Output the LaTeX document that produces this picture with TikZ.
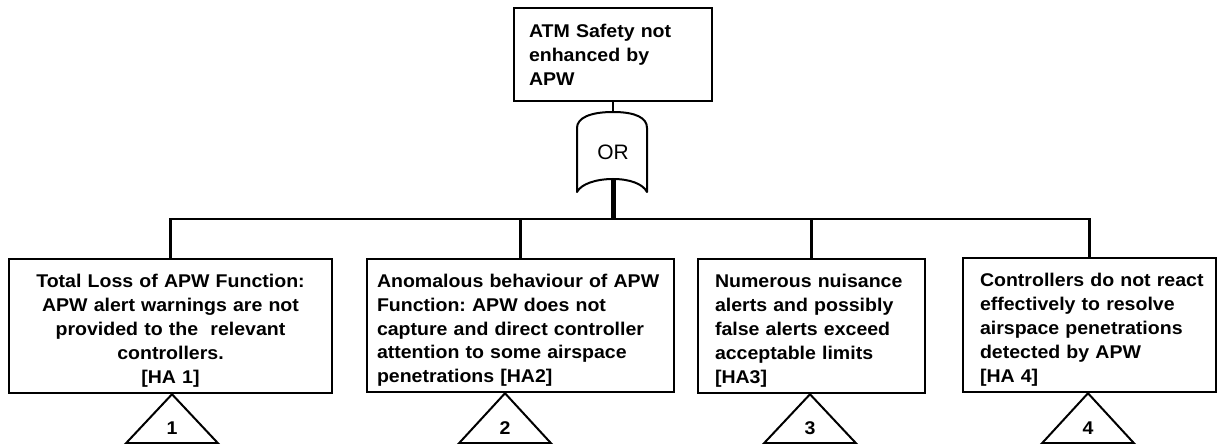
\documentclass[tikz,border=0pt]{standalone}
\usepackage{fontspec}
\setmainfont{Liberation Sans}[FakeStretch=1.06,WordSpace=0.55]
\newfontfamily\gatefont{Liberation Sans}
\newcommand\tstrut{\rule{0pt}{23bp}}
\frenchspacing
\begin{document}
\begin{tikzpicture}[x=1bp,y=-1bp]
\tikzset{
  ev/.style={draw, line width=2.5bp, inner ysep=0pt, align=left,
    font=\bfseries\fontsize{18.5}{24}\selectfont\frenchspacing},
  link/.style={line width=2.5bp},
  trunk/.style={line width=5bp},
  gateline/.style={line width=2bp, line join=round},
  xfer/.style={line width=2bp, line join=miter},
  xnum/.style={font=\bfseries\fontsize{18.5}{24}\selectfont, inner sep=0pt},
  ortext/.style={font=\gatefont\fontsize{21}{24}\selectfont, inner sep=0pt},
}
\useasboundingbox (0,0) rectangle (1223,444);

% top event
\node[ev, inner xsep=15bp, text width=168bp, minimum height=93bp] (top) at (613,54.5)
  {\mbox{ATM Safety not}\\\mbox{enhanced by}\\\mbox{APW}};

% OR gate
\coordinate (gtop) at (613,112);
\coordinate (gbot) at (613,179);
\draw[gateline] (577,192) -- (577,128)
  .. controls (577,118) and (590,112) .. (gtop)
  .. controls (636,112) and (647,118) .. (647,128) -- (647,192)
  .. controls (643,184) and (630,179) .. (gbot)
  .. controls (596,179) and (581,184) .. (577,192) -- cycle;
\node[ortext] (gate) at (613,152) {OR};

% bottom events
\node[ev, align=center, inner xsep=10bp, text width=303bp, minimum height=134bp] (b1) at (170.5,326)
  {\mbox{\tstrut Total Loss of APW Function:}\\\mbox{APW alert warnings are not}\\\mbox{provided to the\ \ relevant}\\\mbox{controllers.}\\\mbox{[HA 1]}};
\node[ev, inner xsep=10bp, text width=287bp, minimum height=133bp] (b2) at (520.5,325.5)
  {\mbox{\tstrut Anomalous behaviour of APW}\\\mbox{Function: APW does not}\\\mbox{capture and direct controller}\\\mbox{attention to some airspace}\\\mbox{penetrations [HA2]}};
\node[ev, inner xsep=17bp, text width=193bp, minimum height=134bp] (b3) at (811.5,326)
  {\mbox{\tstrut Numerous nuisance}\\\mbox{alerts and possibly}\\\mbox{false alerts exceed}\\\mbox{acceptable limits}\\\mbox{[HA3]}};
\node[ev, inner xsep=17bp, text width=219bp, minimum height=134bp] (b4) at (1089.5,325)
  {\mbox{\tstrut Controllers do not react}\\\mbox{effectively to resolve}\\\mbox{airspace penetrations}\\\mbox{detected by APW}\\\mbox{[HA 4]}};

% connectors
\coordinate (j) at (613,219);
\draw[link] (top.south) -- (gtop);
\draw[trunk] (gbot) -- (j);
\draw[link] (b1.north) |- (j) -| (b4.north);
\draw[link] (b2.north) -- (b2.north |- j);
\draw[link] (b3.north) -- (b3.north |- j);

% transfer triangles
\node[xnum] (n1) at (172,428) {1};
\node[xnum] (n2) at (505,428) {2};
\node[xnum] (n3) at (810,428) {3};
\node[xnum] (n4) at (1088,428) {4};
\draw[xfer] (n1 |- b1.south) -- ++(46,49) -- ++(-92,0) -- cycle;
\draw[xfer] (n2 |- b2.south) -- ++(46,50) -- ++(-92,0) -- cycle;
\draw[xfer] (n3 |- b3.south) -- ++(46,49) -- ++(-92,0) -- cycle;
\draw[xfer] (n4 |- b4.south) -- ++(46,50) -- ++(-92,0) -- cycle;
\end{tikzpicture}
\end{document}
